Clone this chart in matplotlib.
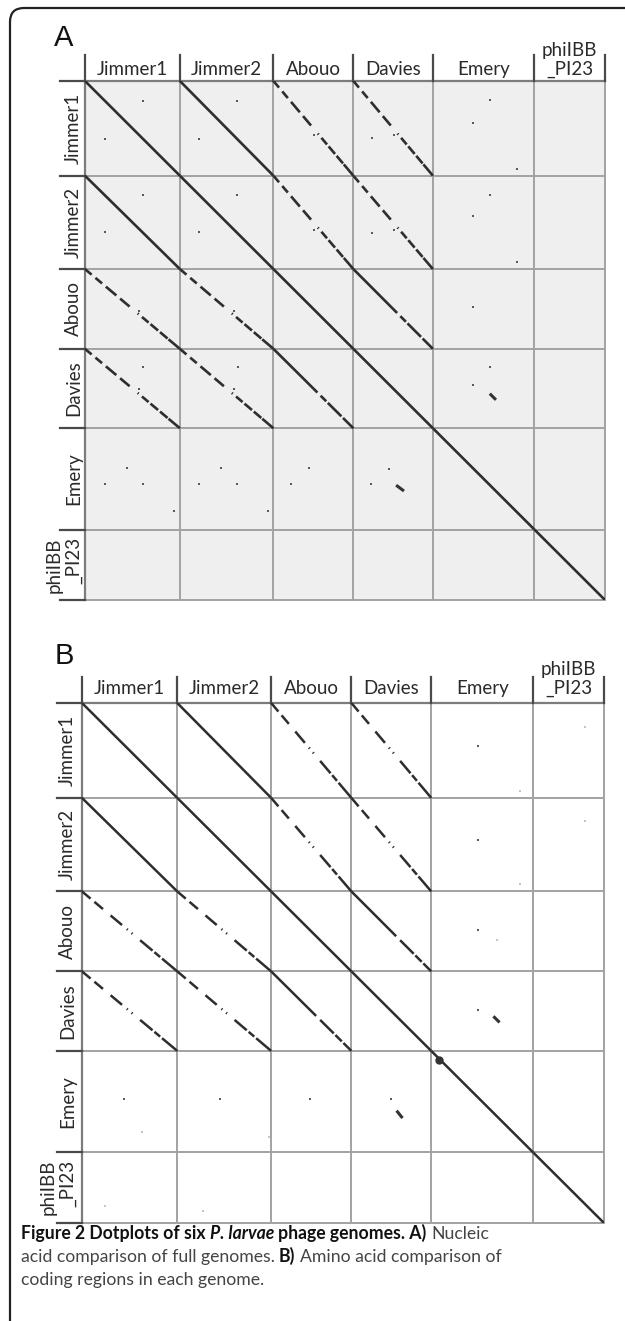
import matplotlib
matplotlib.use("Agg")
import matplotlib.pyplot as plt
import numpy as np
from matplotlib.patches import FancyBboxPatch
from matplotlib.transforms import IdentityTransform

plt.rcParams["font.family"] = ["Lato", "DejaVu Sans"]

genomes = ["Jimmer1", "Jimmer2", "Abouo", "Davies", "Emery", "phiIBB\n_PI23"]
lengths_kb = [47.5, 46.8, 40.0, 39.8, 50.8, 35.3]

# which (row, col) cells carry a diagonal match, and of what kind
solid_pairs = [(0, 0), (0, 1), (1, 0), (1, 1), (2, 2), (3, 3), (4, 4), (5, 5)]
jad_pairs = [(0, 2), (0, 3), (1, 2), (1, 3), (2, 0), (2, 1), (3, 0), (3, 1)]
ad_pairs = [(2, 3), (3, 2)]

# fractions of the cell diagonal covered by hits
segs_solid = [(0.0, 1.0)]
segs_a_jad = [(0.0, 0.07), (0.11, 0.18), (0.22, 0.33), (0.37, 0.47), (0.555, 0.565),
              (0.60, 0.67), (0.69, 0.77), (0.79, 0.87), (0.88, 1.0)]
segs_a_ad = [(0.0, 0.55), (0.59, 0.66), (0.68, 0.85), (0.87, 1.0)]
segs_b_jad = [(0.0, 0.09), (0.13, 0.22), (0.30, 0.42), (0.47, 0.48), (0.52, 0.53),
              (0.61, 0.74), (0.76, 0.82), (0.84, 1.0)]
segs_b_ad = [(0.0, 0.56), (0.61, 0.78), (0.80, 0.88), (0.90, 1.0)]

# isolated hits: (row, col, x kb in col genome, y kb in row genome)
dots_a = [(0, 0, 29, 10), (0, 0, 10, 29), (0, 1, 28.5, 10), (0, 1, 9.5, 29),
          (1, 0, 29, 9.5), (1, 0, 10, 28), (1, 1, 28.5, 9.5), (1, 1, 9.5, 28),
          (0, 2, 20.5, 27), (0, 3, 9.5, 28.5), (0, 3, 20.5, 27), (1, 2, 20.5, 27),
          (1, 3, 9.5, 28.5), (1, 3, 20.5, 27), (2, 0, 27, 21), (3, 0, 27, 20),
          (3, 0, 29, 9), (2, 1, 27, 21), (3, 1, 27, 20), (3, 1, 29, 9),
          (0, 4, 20, 21), (0, 4, 28.5, 9.5), (0, 4, 42, 44),
          (1, 4, 20, 20), (1, 4, 28.5, 9.5), (1, 4, 42, 43),
          (2, 4, 20, 19), (3, 4, 28.5, 9), (3, 4, 20, 18),
          (4, 0, 21, 20), (4, 0, 10, 28), (4, 0, 29, 28), (4, 0, 44.5, 41.5),
          (4, 1, 20.5, 20), (4, 1, 9.5, 28), (4, 1, 28.5, 28), (4, 1, 44, 41.5),
          (4, 2, 18, 20), (4, 2, 9, 28), (4, 3, 18, 20.5), (4, 3, 9, 28)]
blips_a = [(3, 4, 29, 23, 31, 25), (4, 3, 22, 29, 24.7, 31)]
faint_a = []

dots_b = [(0, 4, 23.5, 21.5), (1, 4, 23.5, 21), (2, 4, 23.5, 19.5), (3, 4, 23.5, 19.5),
          (4, 0, 21, 24), (4, 1, 21.5, 24), (4, 2, 19.5, 24), (4, 3, 19.5, 24)]
blips_b = [(3, 4, 31.5, 23, 33.5, 25), (4, 3, 23, 30.5, 25, 33)]
faint_b = [(0, 4, 44, 44), (1, 4, 44, 43), (2, 4, 33, 24.5), (0, 5, 26, 12),
           (1, 5, 26, 11.5), (5, 0, 11.5, 27), (5, 1, 13, 29.5), (4, 0, 30, 40.5),
           (4, 1, 45.5, 43)]
circles_b = [(4, 4, 4, 4.5)]

W, H = 625, 1321
fig = plt.figure(figsize=(W / 100, H / 100), dpi=100)
fig.patch.set_facecolor("white")

edges = np.concatenate([[0], np.cumsum(lengths_kb)])
total = edges[-1]


def draw_panel(rect, face, seg_jad, seg_ad, dots, blips, faint, circles,
               letter, letter_xy, hdr_y, lab_x, lw_diag):
    ax = fig.add_axes(rect)
    ax.set_xlim(0, total)
    ax.set_ylim(total, 0)
    ax.set_xticks([])
    ax.set_yticks([])
    for s in ax.spines.values():
        s.set_visible(False)
    ax.set_facecolor(face)

    # cell grid
    for b in edges[1:]:
        ax.plot([b, b], [0, total], color="#a2a2a2", lw=1.4, zorder=1, clip_on=False)
        ax.plot([0, total], [b, b], color="#a2a2a2", lw=1.4, zorder=1, clip_on=False)
    ax.plot([0, total], [0, 0], color="#7c7c7c", lw=1.6, zorder=1, clip_on=False)
    ax.plot([0, 0], [0, total], color="#7c7c7c", lw=1.6, zorder=1, clip_on=False)
    # header separators sticking out of the grid
    for b in edges:
        ax.plot([b, b], [-13, 0], color="#4a4a4a", lw=1.6, clip_on=False)
        ax.plot([-12.5, 0], [b, b], color="#4a4a4a", lw=1.6, clip_on=False)

    # diagonal hits
    def cell_diag(r, c, segs):
        x0, y0 = edges[c], edges[r]
        lx, ly = lengths_kb[c], lengths_kb[r]
        for f0, f1 in segs:
            ax.plot([x0 + f0 * lx, x0 + f1 * lx], [y0 + f0 * ly, y0 + f1 * ly],
                    color="#2e2e2e", lw=lw_diag, solid_capstyle="butt", zorder=3)

    for r, c in solid_pairs:
        cell_diag(r, c, segs_solid)
    for r, c in jad_pairs:
        cell_diag(r, c, seg_jad)
    for r, c in ad_pairs:
        cell_diag(r, c, seg_ad)

    if dots:
        ax.plot([edges[c] + x for r, c, x, y in dots], [edges[r] + y for r, c, x, y in dots],
                "s", ms=1.8, color="#5a5a5a", mew=0, zorder=3)
    if faint:
        ax.plot([edges[c] + x for r, c, x, y in faint], [edges[r] + y for r, c, x, y in faint],
                "s", ms=1.8, color="#c4c4c4", mew=0, zorder=3)
    for r, c, xa, ya, xb, yb in blips:
        ax.plot([edges[c] + xa, edges[c] + xb], [edges[r] + ya, edges[r] + yb],
                color="#333333", lw=2.2, zorder=3)
    for r, c, x, y in circles:
        ax.plot(edges[c] + x, edges[r] + y, "o", ms=5, color="#333333", zorder=4)

    # labels
    for i, name in enumerate(genomes):
        mid = edges[i] + lengths_kb[i] / 2
        ax.text(mid, hdr_y, name, ha="center", va="bottom", fontsize=13.5,
                color="#2a2a2a", linespacing=1.15)
        ax.text(lab_x, mid, name, ha="right", va="center", rotation=90,
                fontsize=13.5, color="#2a2a2a", linespacing=1.15)
    fig.text(letter_xy[0] / W, 1 - letter_xy[1] / H, letter, ha="center", va="center",
             fontsize=21, family="Liberation Sans", color="#111111")
    return ax


draw_panel([85 / W, 1 - 600 / H, 520 / W, 519 / H], "#efefef", segs_a_jad, segs_a_ad,
           dots_a, blips_a, faint_a, [], "A", (64, 38), -1.5, -1.5, 1.9)
draw_panel([82 / W, 1 - 1223 / H, 522 / W, 520 / H], "white", segs_b_jad, segs_b_ad,
           dots_b, blips_b, faint_b, circles_b, "B", (64, 656), -3.0, -3.0, 1.8)

# frame around the figure (open to the right and bottom)
frame = FancyBboxPatch((10, -40), 700, H - 8 + 40, boxstyle="round,pad=0,rounding_size=14",
                       transform=IdentityTransform(), fc="none", ec="#222222", lw=1.6)
fig.add_artist(frame)

# caption with mixed styles
caption = [
    [("Figure 2 Dotplots of six", "bold", "normal", "#111111"),
     ("P. larvae", "bold", "italic", "#111111"),
     ("phage genomes. A)", "bold", "normal", "#111111"),
     ("Nucleic", "normal", "normal", "#444444")],
    [("acid comparison of full genomes.", "normal", "normal", "#444444"),
     ("B)", "bold", "normal", "#111111"),
     ("Amino acid comparison of", "normal", "normal", "#444444")],
    [("coding regions in each genome.", "normal", "normal", "#444444")],
]
cap_y = [1239, 1262, 1285]
cap_size = 12.7
renderer = fig.canvas.get_renderer()


def text_w(s, weight, style):
    t = fig.text(0, 0, s, fontsize=cap_size, weight=weight, style=style)
    w = t.get_window_extent(renderer).width
    t.remove()
    return w


for line, yy in zip(caption, cap_y):
    x = 21
    for k, (s, weight, style, col) in enumerate(line):
        if k > 0:
            x += text_w("x x", weight, "normal") - text_w("xx", weight, "normal")
        fig.text(x / W, 1 - yy / H, s, ha="left", va="baseline", fontsize=cap_size,
                 weight=weight, style=style, color=col)
        x += text_w(s, weight, style)

fig.savefig("out.png", dpi=100, facecolor="white")
